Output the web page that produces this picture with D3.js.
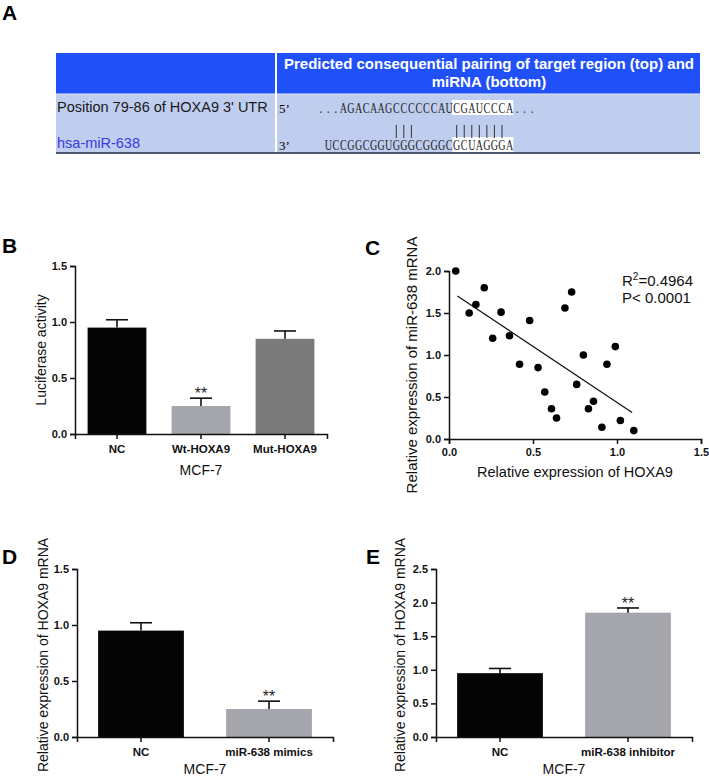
<!DOCTYPE html>
<html>
<head>
<meta charset="utf-8">
<script src="https://cdn.jsdelivr.net/npm/d3@7"></script>
<style>
  body { margin: 0; background: #fff; }
  svg { display: block; font-family: "Liberation Sans", Arial, sans-serif; }
  .tick text { font-weight: bold; font-size: 11px; fill: #111; }
  .axis path, .axis line { stroke: #111; stroke-width: 1.5; }
</style>
</head>
<body>
<div id="main"></div>
<script>
// ---- panel A : target site table ----
const headerLines = ['Predicted consequential pairing of target region (top) and', 'miRNA (bottom)'];
const siteLabel = "Position 79-86 of HOXA9 3' UTR";
const mirnaLabel = 'hsa-miR-638';
const targetSeq = '...AGACAAGCCCCCCAUCGAUCCCA...';
const mirnaSeq = 'UCCGGCGGUGGGCGGGCGCUAGGGA';
const mirnaStartCol = 1;
const pairedCols = [10, 11, 12, 18, 19, 20, 21, 22, 23, 24];
const seedCols = [18, 25];   // highlighted block, first/last column

// ---- panel B : luciferase ----
const catsB = ['NC', 'Wt-HOXA9', 'Mut-HOXA9'];
const meansB = [0.95, 0.25, 0.85];
const errsB = [0.07, 0.07, 0.07];
const starsB = ['', '**', ''];
const ticksB = [0, 0.5, 1.0, 1.5];

// ---- panel C : correlation ----
const hoxa9Expr = [0.04, 0.12, 0.16, 0.21, 0.26, 0.31, 0.36, 0.42, 0.48, 0.53, 0.57, 0.61,
                   0.64, 0.69, 0.73, 0.76, 0.80, 0.83, 0.86, 0.91, 0.94, 0.99, 1.02, 1.10];
const mir638Expr = [2.00, 1.50, 1.60, 1.80, 1.20, 1.51, 1.23, 0.89, 1.41, 0.85, 0.56, 0.36,
                    0.25, 1.56, 1.75, 0.65, 1.00, 0.36, 0.45, 0.14, 0.89, 1.10, 0.22, 0.10];
const fitSlope = -1.335;
const fitIntercept = 1.77;
const fitRange = [0.05, 1.09];
const rSquared = '0.4964';
const pValue = 'P< 0.0001';
const ticksCx = [0, 0.5, 1.0, 1.5];
const ticksCy = [0, 0.5, 1.0, 1.5, 2.0];

// ---- panel D : mimics ----
const catsD = ['NC', 'miR-638 mimics'];
const meansD = [0.95, 0.25];
const errsD = [0.07, 0.07];
const starsD = ['', '**'];
const ticksD = [0, 0.5, 1.0, 1.5];

// ---- panel E : inhibitor ----
const catsE = ['NC', 'miR-638 inhibitor'];
const meansE = [0.95, 1.85];
const errsE = [0.07, 0.07];
const starsE = ['', '**'];
const ticksE = [0, 0.5, 1.0, 1.5, 2.0, 2.5];

const W = 709, H = 778;
const fmt = d3.format('.1f');

const svg = d3.select('#main').append('svg')
    .attr('width', W)
    .attr('height', H);

// panel letters
[['A', 2, 20], ['B', 2, 253], ['C', 365, 255], ['D', 2, 564], ['E', 366, 564]].forEach(l => {
    svg.append('text')
        .attr('x', l[1]).attr('y', l[2])
        .style('font-size', '21px').style('font-weight', 'bold')
        .text(l[0]);
});

//==============================================================================================
function drawTable() {
    const g = svg.append('g');
    const left = 56, right = 700, split = 276;
    const top = 53, headBottom = 94, bottom = 152;

    g.append('rect').attr('x', left).attr('y', top)
        .attr('width', right - left).attr('height', headBottom - top)
        .attr('fill', '#1f50f8');
    g.append('rect').attr('x', left).attr('y', headBottom)
        .attr('width', right - left).attr('height', bottom - headBottom)
        .attr('fill', '#bfcdef');
    g.append('line').attr('x1', split).attr('x2', split).attr('y1', top).attr('y2', bottom)
        .attr('stroke', '#fff').attr('stroke-width', 2);
    g.append('line').attr('x1', left).attr('x2', right).attr('y1', headBottom).attr('y2', headBottom)
        .attr('stroke', '#e8eeff').attr('stroke-width', 1);
    g.append('line').attr('x1', left).attr('x2', right).attr('y1', bottom + 1).attr('y2', bottom + 1)
        .attr('stroke', '#4b5670').attr('stroke-width', 2);

    headerLines.forEach((t, i) => {
        g.append('text')
            .attr('x', (split + right) / 2 + 1).attr('y', 69 + i * 18)
            .attr('text-anchor', 'middle')
            .style('font-size', '15px').style('font-weight', 'bold').style('fill', '#fff')
            .text(t);
    });

    g.append('text').attr('x', 57).attr('y', 112)
        .style('font-size', '14.5px').style('fill', '#1a1a1a').text(siteLabel);
    g.append('text').attr('x', 57).attr('y', 148)
        .style('font-size', '14.5px').style('fill', '#3a3ae0').text(mirnaLabel);

    const serif = '"Liberation Serif", "DejaVu Serif", serif';
    g.append('text').attr('x', 279).attr('y', 113)
        .style('font-family', serif).style('font-size', '13px').text('5\u2019');
    g.append('text').attr('x', 279).attr('y', 150)
        .style('font-family', serif).style('font-size', '13px').text('3\u2019');

    // column scale for the aligned sequences
    const col = d3.scaleLinear().domain([0, 1]).range([317, 317 + 7.55]);

    g.append('rect')
        .attr('x', col(seedCols[0]) - 1).attr('y', 100)
        .attr('width', col(seedCols[1] + 1) - col(seedCols[0]) + 1).attr('height', 15)
        .attr('fill', '#fff');
    g.append('rect')
        .attr('x', col(seedCols[0] + 1) - 8).attr('y', 137)
        .attr('width', col(seedCols[1] + 1) - col(seedCols[0] + 1) + 8).attr('height', 15)
        .attr('fill', '#fff');

    const drawSeq = (seq, start, y) => {
        g.selectAll(null)
            .data(seq.split(''))
            .enter().append('text')
            .attr('transform', (d, i) => `translate(${col(start + i + 0.5)},${y}) scale(0.72,1)`)
            .attr('text-anchor', 'middle')
            .style('font-family', serif).style('font-size', '14px').style('fill', '#222')
            .text(d => d);
    };
    drawSeq(targetSeq, 0, 113);
    drawSeq(mirnaSeq, mirnaStartCol, 150);

    g.selectAll(null)
        .data(pairedCols)
        .enter().append('line')
        .attr('x1', d => col(d + 0.5)).attr('x2', d => col(d + 0.5))
        .attr('y1', 125).attr('y2', 138)
        .attr('stroke', '#333').attr('stroke-width', 1);
}

//==============================================================================================
function drawBarPanel(p) {
    const g = svg.append('g');
    const x = d3.scaleBand().domain(p.cats).range(p.xr).paddingInner(p.pi).paddingOuter(p.po);
    const y = d3.scaleLinear().domain([0, p.ticks[p.ticks.length - 1]]).range(p.yr);

    const rows = p.cats.map((c, i) => ({ cat: c, mean: p.means[i], err: p.errs[i], star: p.stars[i], color: p.colors[i] }));

    g.selectAll('.bar').data(rows).enter().append('rect')
        .attr('x', d => x(d.cat)).attr('width', x.bandwidth())
        .attr('y', d => y(d.mean)).attr('height', d => y(0) - y(d.mean))
        .attr('fill', d => d.color);

    const capW = 22;
    g.selectAll('.errv').data(rows).enter().append('line')
        .attr('x1', d => x(d.cat) + x.bandwidth() / 2).attr('x2', d => x(d.cat) + x.bandwidth() / 2)
        .attr('y1', d => y(d.mean)).attr('y2', d => y(d.mean + d.err))
        .attr('stroke', '#111').attr('stroke-width', 1.6);
    g.selectAll('.errh').data(rows).enter().append('line')
        .attr('x1', d => x(d.cat) + x.bandwidth() / 2 - capW / 2).attr('x2', d => x(d.cat) + x.bandwidth() / 2 + capW / 2)
        .attr('y1', d => y(d.mean + d.err)).attr('y2', d => y(d.mean + d.err))
        .attr('stroke', '#111').attr('stroke-width', 1.6);
    g.selectAll('.star').data(rows).enter().append('text')
        .attr('x', d => x(d.cat) + x.bandwidth() / 2)
        .attr('y', d => y(d.mean + d.err) + 1)
        .attr('text-anchor', 'middle')
        .style('font-size', '16px').style('fill', '#222')
        .text(d => d.star);

    g.append('g').attr('class', 'axis')
        .attr('transform', `translate(0,${p.yr[0]})`)
        .call(d3.axisBottom(x).tickSizeOuter(0).tickSize(5).tickPadding(6))
        .selectAll('.tick text').style('font-size', '11.5px');

    g.append('g').attr('class', 'axis')
        .attr('transform', `translate(${p.xr[0]},0)`)
        .call(d3.axisLeft(y).tickValues(p.ticks).tickFormat(fmt).tickSizeOuter(0).tickSize(5).tickPadding(3));

    g.append('text')
        .attr('x', (p.xr[0] + p.xr[1]) / 2).attr('y', p.yr[0] + p.groupGap)
        .attr('text-anchor', 'middle')
        .style('font-size', '14px').style('fill', '#111')
        .text('MCF-7');

    g.append('text')
        .attr('transform', `translate(${p.titleX},${p.titleY}) rotate(-90)`)
        .attr('text-anchor', 'middle')
        .style('font-size', '14px').style('fill', '#111')
        .text(p.title);
}

//==============================================================================================
function drawScatter() {
    const g = svg.append('g');
    const x = d3.scaleLinear().domain([0, 1.5]).range([449, 701]);
    const y = d3.scaleLinear().domain([0, 2.0]).range([439, 271]);

    g.append('g').attr('class', 'axis')
        .attr('transform', 'translate(0,439)')
        .call(d3.axisBottom(x).tickValues(ticksCx).tickFormat(fmt).tickSizeOuter(0).tickSize(5).tickPadding(4));
    g.append('g').attr('class', 'axis')
        .attr('transform', 'translate(449,0)')
        .call(d3.axisLeft(y).tickValues(ticksCy).tickFormat(fmt).tickSizeOuter(0).tickSize(5).tickPadding(3));

    g.append('line')
        .attr('x1', x(fitRange[0])).attr('y1', y(fitIntercept + fitSlope * fitRange[0]))
        .attr('x2', x(fitRange[1])).attr('y2', y(fitIntercept + fitSlope * fitRange[1]))
        .attr('stroke', '#111').attr('stroke-width', 1.2);

    g.selectAll('circle')
        .data(hoxa9Expr.map((v, i) => [v, mir638Expr[i]]))
        .enter().append('circle')
        .attr('cx', d => x(d[0])).attr('cy', d => y(d[1]))
        .attr('r', 3.8).attr('fill', '#000');

    const r2 = g.append('text').attr('x', 622).attr('y', 286)
        .style('font-size', '15px').style('fill', '#111');
    r2.append('tspan').text('R');
    r2.append('tspan').attr('dy', -6).style('font-size', '10px').text('2');
    r2.append('tspan').attr('dy', 6).text('=' + rSquared);
    g.append('text').attr('x', 622).attr('y', 303)
        .style('font-size', '15px').style('fill', '#111').text(pValue);

    g.append('text')
        .attr('x', 575).attr('y', 477)
        .attr('text-anchor', 'middle')
        .style('font-size', '14.5px').style('fill', '#111')
        .text('Relative expression of HOXA9');
    g.append('text')
        .attr('transform', 'translate(417,365) rotate(-90)')
        .attr('text-anchor', 'middle')
        .style('font-size', '15px').style('fill', '#111')
        .text('Relative expression of miR-638 mRNA');
}

drawTable();
drawBarPanel({
    cats: catsB, means: meansB, errs: errsB, stars: starsB, ticks: ticksB,
    colors: ['#050505', '#a5a6ac', '#7b7b7b'],
    xr: [75, 327], yr: [434, 266], pi: 0.3, po: 0.15, groupGap: 41,
    title: 'Luciferase activity', titleX: 46, titleY: 350
});
drawScatter();
drawBarPanel({
    cats: catsD, means: meansD, errs: errsD, stars: starsD, ticks: ticksD,
    colors: ['#050505', '#a5a6ac'],
    xr: [77, 333], yr: [737, 569], pi: 0.33, po: 0.165, groupGap: 37,
    title: 'Relative expression of HOXA9 mRNA', titleX: 48, titleY: 655
});
drawBarPanel({
    cats: catsE, means: meansE, errs: errsE, stars: starsE, ticks: ticksE,
    colors: ['#050505', '#a5a6ac'],
    xr: [436, 692], yr: [737, 569], pi: 0.33, po: 0.165, groupGap: 37,
    title: 'Relative expression of HOXA9 mRNA', titleX: 405, titleY: 655
});
</script>
</body>
</html>
